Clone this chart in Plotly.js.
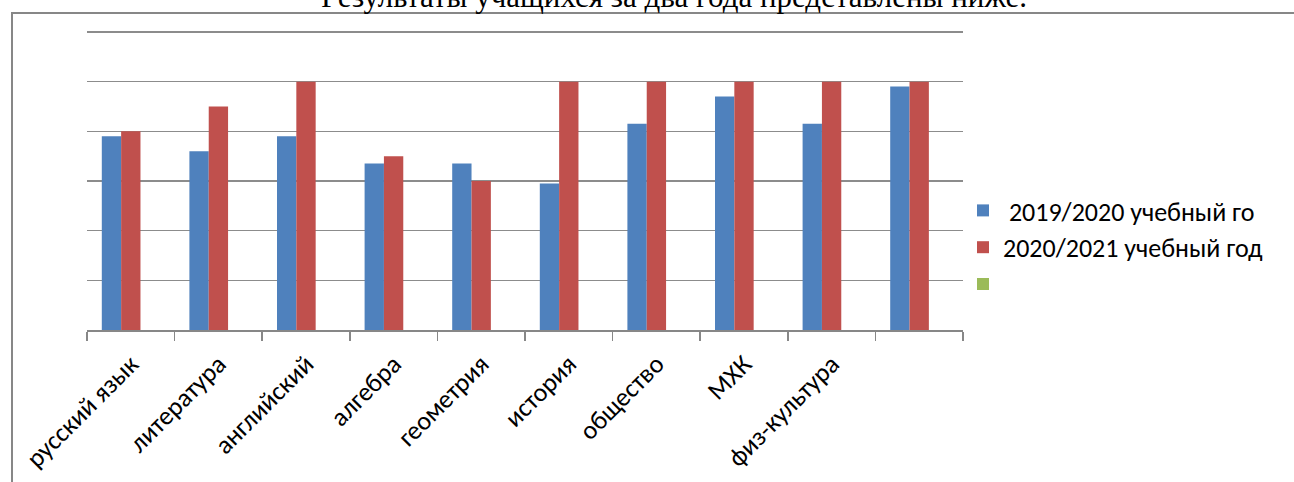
<!DOCTYPE html>
<html>
<head>
<meta charset="utf-8">
<script src="https://cdn.plot.ly/plotly-3.0.1.min.js"></script>
<style>html,body{margin:0;padding:0;background:#fff;}#chart{width:1294px;height:482px;}</style>
</head>
<body>
<div id="chart"></div>
<script>
const categories = ["русский язык", "литература", "английский", "алгебра", "геометрия", "история", "общество", "МХК", "физ-культура", " "];
const series2019 = [78, 72, 78, 67, 67, 59, 83, 94, 83, 98];
const series2020 = [80, 90, 100, 70, 60, 100, 100, 100, 100, 100];
const series3 = [null, null, null, null, null, null, null, null, null, null];
const seriesNames = [" 2019/2020 учебный го", "2020/2021 учебный год", " "];
const titleText = "Результаты учащихся за два года представлены ниже.";

const L = 87, R = 963, T = 27, B = 330, W = 1294, H = 482;
const YMAX = 122;
const px = x => (x - L) / (R - L);
const py = y => (B - y) / (B - T);

const traces = [
  {type: "bar", x: categories, y: series2019, name: seriesNames[0], legendgroup: "a", marker: {color: "#4F81BD", line: {width: 0}}},
  {type: "bar", x: categories, y: series2020, name: seriesNames[1], legendgroup: "b", marker: {color: "#C0504D", line: {width: 0}}},
  {type: "bar", x: categories, y: series3, name: seriesNames[2], legendgroup: "c", marker: {color: "#9BBB59", line: {width: 0}}, showlegend: true}
];

const layout = {
  width: W, height: H,
  margin: {l: L, r: W - R, t: T, b: H - B, pad: 0},
  paper_bgcolor: "#fff", plot_bgcolor: "#fff",
  barmode: "group", bargap: 0.338, bargroupgap: 0,
  font: {family: "Carlito, Lato, sans-serif", color: "#000"},
  xaxis: {type: "category", tickangle: -45, tickfont: {size: 26, color: "#000"},
          showline: true, linecolor: "#878787", linewidth: 1.5, ticks: "outside", tickson: "boundaries",
          ticklen: 9, tickcolor: "#878787", tickwidth: 1.5, showgrid: false, zeroline: false, fixedrange: true,
          ticklabelstandoff: 7},
  yaxis: {range: [0, YMAX], tick0: 0, dtick: 20, showticklabels: false, showgrid: true, gridcolor: "#8c8c8c", gridwidth: 1.5,
          zeroline: false, showline: false, ticks: "", fixedrange: true},
  legend: {x: px(963), xanchor: "left", y: py(187), yanchor: "top", font: {size: 26, color: "#000"},
           traceorder: "grouped", tracegroupgap: 0, bgcolor: "rgba(0,0,0,0)"},
  annotations: [
    {text: titleText, xref: "paper", yref: "paper", x: px(674), xanchor: "center", y: py(-3), yanchor: "middle",
     showarrow: false, font: {family: "Liberation Serif, Times New Roman, serif", size: 31, color: "#000"}}
  ],
  shapes: [
    {type: "line", xref: "paper", yref: "paper", x0: px(11), x1: px(W + 5), y0: py(13), y1: py(13), line: {color: "#878787", width: 2}},
    {type: "line", xref: "paper", yref: "paper", x0: px(12), x1: px(12), y0: py(12), y1: py(H + 5), line: {color: "#878787", width: 2}}
  ]
};

Plotly.newPlot("chart", traces, layout, {displayModeBar: false, staticPlot: true});
</script>
</body>
</html>
